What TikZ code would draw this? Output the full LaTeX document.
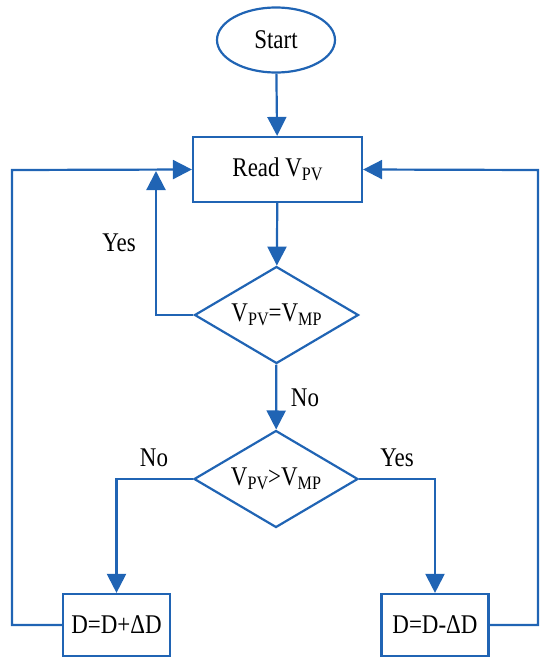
\documentclass[tikz,border=0pt]{standalone}
\usepackage{fontspec}
\setmainfont{Liberation Serif}[FakeStretch=0.85]
\usetikzlibrary{shapes.geometric,arrows.meta}
\definecolor{fc}{RGB}{32,100,180}
\newcommand{\sbs}[1]{\raisebox{-0.28ex}{\fontsize{19}{20}\selectfont #1}}
\begin{document}
\begin{tikzpicture}[x=1pt,y=-1pt,
  every node/.style={font=\fontsize{27}{30}\selectfont, text=black, inner sep=0pt},
  shp/.style={draw=fc, line width=2.2pt},
  term/.style={shp, ellipse, minimum width=118pt, minimum height=65pt},
  proc/.style={shp, rectangle},
  dec/.style={shp, diamond, shape aspect=1.7, minimum width=164pt, minimum height=97pt},
  arr/.style={draw=fc, line width=2.2pt, -{Triangle[length=19pt,width=19pt]}},
  lbl/.style={font=\fontsize{27}{30}\selectfont}]
\useasboundingbox (0,0) rectangle (539,659);
\node[term] (start) at (276,40) {Start};
\node[proc, minimum width=169pt, minimum height=65pt] (read) at (277.5,169.5) {Read V\sbs{PV}};
\node[dec] (d1) at (276.5,315) {V\sbs{PV}=V\sbs{MP}};
\node[dec] (d2) at (276,479) {V\sbs{PV}>V\sbs{MP}};
\node[proc, minimum width=107pt, minimum height=62pt] (inc) at (116.5,625) {D=D+ΔD};
\node[proc, minimum width=107pt, minimum height=62pt] (decr) at (435,625) {D=D-ΔD};
\coordinate (yl) at (156,171);
\coordinate (lc) at (12,170);
\coordinate (rc) at (538,170);
\draw[arr] (start) -- (read);
\draw[arr] (read) -- (d1);
\draw[arr] (d1) -- (d2);
\draw[arr] (d1.west) -| (yl);
\draw[arr] (inc.west) -| (lc) -- (read.west);
\draw[arr] (decr.east) -| (rc) -- (read.east);
\draw[arr] (d2.west) -| (inc.north);
\draw[arr] (d2.east) -| (decr.north);
\node[lbl] (yes1) at (119,243) {Yes};
\node[lbl] (no1) at (305,398) {No};
\node[lbl] (no2) at (154,458) {No};
\node[lbl] (yes2) at (397,458) {Yes};
\end{tikzpicture}
\end{document}
